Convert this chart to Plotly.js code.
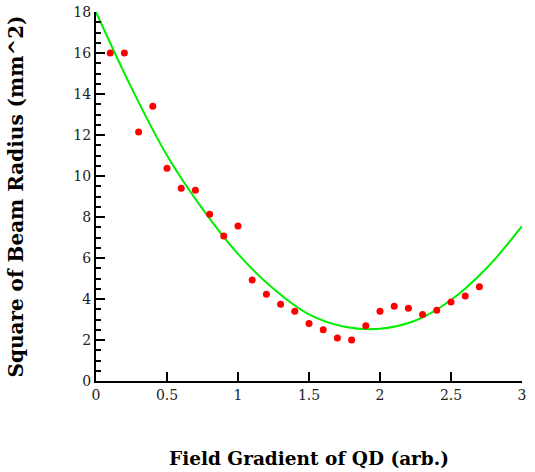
<!DOCTYPE html>
<html>
<head>
<meta charset="utf-8">
<script src="https://cdn.plot.ly/plotly-3.0.1.min.js"></script>
<style>html,body{margin:0;padding:0;background:#fff;}#chart{width:535px;height:472px;}</style>
</head>
<body>
<div id="chart"></div>
<script>
// Measured data points (red dots)
const pointX = [0.1,0.2,0.3,0.4,0.5,0.6,0.7,0.8,0.9,1.0,1.1,1.2,1.3,1.4,1.5,1.6,1.7,1.8,1.9,2.0,2.1,2.2,2.3,2.4,2.5,2.6,2.7];
const pointY = [16.0,16.0,12.15,13.4,10.38,9.4,9.3,8.13,7.07,7.56,4.93,4.23,3.75,3.4,2.8,2.5,2.1,2.0,2.7,3.4,3.65,3.55,3.25,3.45,3.85,4.15,4.6];

// Fitted curve (green line)
const fitX = [0,0.25,0.5,0.75,1.0,1.25,1.5,1.75,2.0,2.25,2.5,2.75,3.0];
const fitY = [18.0,14.3,11.0,8.4,6.2,4.5,3.25,2.65,2.55,2.95,3.95,5.5,7.55];

const xTitle = "Field Gradient of QD (arb.)";
const yTitle = "Square of Beam Radius (mm^2)";

const tickFont = {family: "DejaVu Serif", size: 14, color: "#222"};

const traces = [
  {x: fitX, y: fitY, type: "scatter", mode: "lines",
   line: {color: "#00ee00", width: 2, shape: "spline", smoothing: 1}, hoverinfo: "skip"},
  {x: pointX, y: pointY, type: "scatter", mode: "markers",
   marker: {color: "#ff0000", size: 7, symbol: "circle"}}
];

const layout = {
  width: 535, height: 472,
  margin: {l: 96, r: 13, t: 12, b: 91, pad: 0},
  showlegend: false,
  xaxis: {
    range: [0, 3], dtick: 0.5,
    showline: true, linecolor: "#000", linewidth: 2, showgrid: false, zeroline: false,
    ticks: "inside", ticklen: 9, tickwidth: 2, tickcolor: "#000",
    tickfont: tickFont,
    title: {text: xTitle, font: {family: "DejaVu Serif", size: 18.5, color: "#000", weight: "bold"}, standoff: 50}
  },
  yaxis: {
    range: [0, 18], dtick: 2,
    showline: true, linecolor: "#000", linewidth: 2, showgrid: false, zeroline: false,
    ticks: "inside", ticklen: 9, tickwidth: 2, tickcolor: "#000",
    minor: {dtick: 0.5, ticks: "inside", ticklen: 5, tickwidth: 2, tickcolor: "#000"},
    tickfont: tickFont,
    title: {text: yTitle, font: {family: "DejaVu Serif", size: 20, color: "#000", weight: "bold"}, standoff: 44}
  }
};

Plotly.newPlot("chart", traces, layout, {displayModeBar: false});
</script>
</body>
</html>
